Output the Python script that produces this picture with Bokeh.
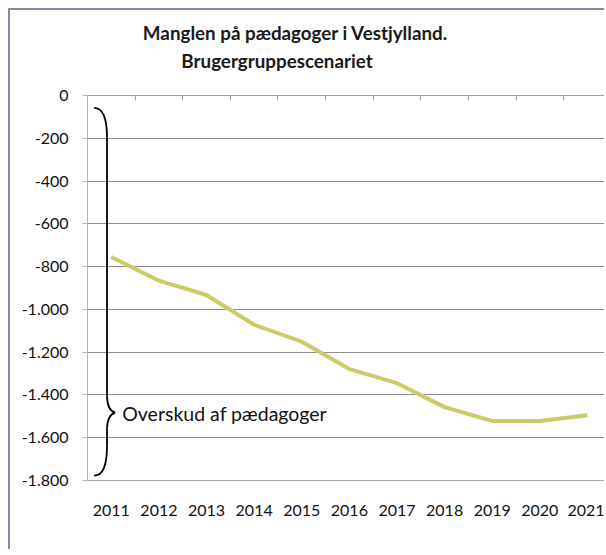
from bokeh.plotting import figure
from bokeh.models import FixedTicker, LinearAxis, Label, Range1d, ColumnDataSource
from bokeh.embed import file_html
from bokeh.resources import INLINE

# ---- data ----
years = ["2011", "2012", "2013", "2014", "2015", "2016", "2017", "2018", "2019", "2020", "2021"]
shortage = [-755, -866, -933, -1072, -1151, -1279, -1345, -1457, -1522, -1522, -1495]
y_ticks = [0, -200, -400, -600, -800, -1000, -1200, -1400, -1600, -1800]
y_tick_labels = ["0", "-200", "-400", "-600", "-800", "-1.000", "-1.200", "-1.400", "-1.600", "-1.800"]
title_lines = ["Manglen på pædagoger i Vestjylland.", "Brugergruppescenariet"]
annotation_text = "Overskud af pædagoger"

# annotation geometry (data units)
brace_top = -58
brace_bottom = -1777
brace_mid = -1483
brace_tip_x = -0.36
brace_stem_x = -0.09
brace_point_x = 0.08
title_x = [3.87, 3.48]
title_y = [295, 162]

FONT = "Lato"
x_idx = list(range(len(years)))

# frame extends above 0 so that the title sits inside it
p = figure(width=596, height=541, output_backend="svg", toolbar_location=None,
           x_range=Range1d(-0.5, 10.4), y_range=Range1d(-1800, 397),
           min_border_left=77, min_border_right=0, min_border_top=0, min_border_bottom=71)
p.margin = (8, 0, 0, 8)
p.styles = {"border-left": "2px solid #8484b6", "border-top": "2px solid #8484b6"}
p.outline_line_color = None
p.background_fill_color = "white"
p.border_fill_color = "white"

# y axis
ya = p.yaxis[0]
ya.ticker = FixedTicker(ticks=y_ticks)
ya.bounds = (min(y_ticks), max(y_ticks))
ya.major_label_overrides = {t: l for t, l in zip(y_ticks, y_tick_labels)}
ya.axis_line_color = "#b4b4b4"
ya.major_tick_line_color = "#b4b4b4"
ya.major_tick_out = 5
ya.major_tick_in = 0
ya.minor_tick_line_color = None
ya.major_label_standoff = 14
ya.major_label_text_font = FONT
ya.major_label_text_font_size = "16px"
ya.major_label_text_color = "#111111"

# x axis (labels only, plus bottom line)
xa = p.xaxis[0]
xa.ticker = FixedTicker(ticks=x_idx)
xa.major_label_overrides = {i: y for i, y in zip(x_idx, years)}
xa.axis_line_color = "#a8a8a8"
xa.major_tick_line_color = None
xa.minor_tick_line_color = None
xa.major_tick_out = 0
xa.major_tick_in = 0
xa.major_label_standoff = 24
xa.major_label_text_font = FONT
xa.major_label_text_font_size = "16px"
xa.major_label_text_color = "#111111"

# horizontal axis line at value 0 with category-boundary ticks
bounds = [i - 0.5 for i in range(len(years) + 1)]
ta = LinearAxis(ticker=FixedTicker(ticks=bounds), fixed_location=0)
ta.major_label_overrides = {b: "" for b in bounds}
ta.axis_line_color = "#a0a0a0"
ta.major_tick_line_color = "#a0a0a0"
ta.major_tick_in = 5
ta.major_tick_out = 0
ta.minor_tick_line_color = None
p.add_layout(ta, "above")

# grid
p.xgrid.visible = False
p.ygrid.ticker = FixedTicker(ticks=y_ticks)
p.ygrid.grid_line_color = "#8e8e8e"
p.ygrid.grid_line_width = 1

# line
p.line(x_idx, shortage, line_color="#CCCC66", line_width=4)

# brace
q = ColumnDataSource(dict(
    x0=[brace_tip_x, brace_stem_x, brace_point_x, brace_stem_x],
    y0=[brace_top, brace_mid + 75, brace_mid, brace_bottom + 140],
    x1=[brace_stem_x, brace_point_x, brace_stem_x, brace_tip_x],
    y1=[brace_top - 140, brace_mid, brace_mid - 75, brace_bottom],
    cx=[brace_stem_x, brace_stem_x + 0.01, brace_stem_x + 0.01, brace_stem_x],
    cy=[brace_top, brace_mid + 10, brace_mid - 10, brace_bottom],
))
p.quadratic(x0="x0", y0="y0", x1="x1", y1="y1", cx="cx", cy="cy", source=q,
            line_color="black", line_width=1.8)
p.segment(x0=[brace_stem_x, brace_stem_x], y0=[brace_top - 140, brace_mid - 75],
          x1=[brace_stem_x, brace_stem_x], y1=[brace_mid + 75, brace_bottom + 140],
          line_color="black", line_width=1.8)

p.add_layout(Label(x=brace_point_x + 0.15, y=brace_mid - 5, text=annotation_text,
                   text_baseline="middle", text_align="left", text_font=FONT,
                   text_font_size="19.5px", text_color="#111111"))

# title lines
for tx, ty, txt in zip(title_x, title_y, title_lines):
    p.add_layout(Label(x=tx, y=ty, text=txt, text_align="center", text_baseline="alphabetic",
                       text_font=FONT, text_font_size="18.8px", text_font_style="bold",
                       text_color="#1a1a1a"))

open("out.html", "w").write(file_html(p, INLINE))
